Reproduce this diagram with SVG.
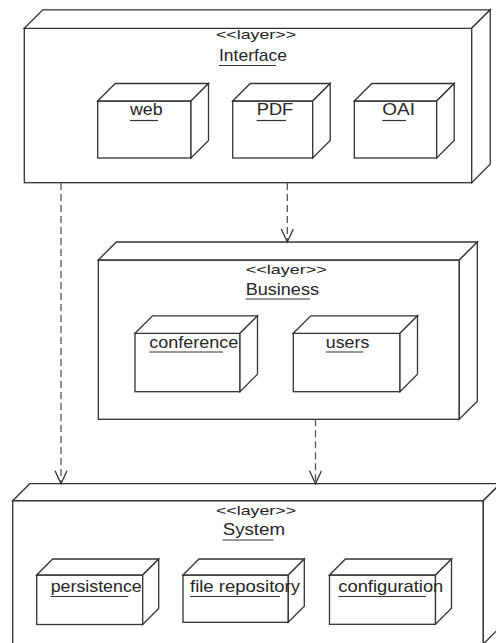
<svg xmlns="http://www.w3.org/2000/svg" width="496" height="643" viewBox="0 0 496 643">
  <defs>
    <style>
      .face { fill: #ffffff; stroke: #333333; stroke-width: 1.3; stroke-linejoin: miter; }
      .st { font-family: "Liberation Sans", Arial, sans-serif; font-size: 13.5px; fill: #262626; }
      .nm { font-family: "Liberation Sans", Arial, sans-serif; font-size: 17px; fill: #262626; }
      .ul { stroke: #333333; stroke-width: 1.2; }
      .dep { fill: none; stroke: #555555; stroke-width: 1.3; stroke-dasharray: 7 4; }
    </style>
    <marker id="open-arrow" markerUnits="userSpaceOnUse" markerWidth="16" markerHeight="16" viewBox="-14 -8 16 16" refX="0" refY="0" orient="auto">
      <path d="M-13,-6 L0,0 L-13,6" fill="none" stroke="#333333" stroke-width="1.3"/>
    </marker>
  </defs>

  <rect width="496" height="643" fill="#ffffff"/>

  <!-- Interface layer -->
  <g id="interface">
    <rect class="face" x="24.3" y="28.3" width="447.4" height="154.4"/>
    <polygon class="face" points="24.3,28.3 42.8,9.8 490.2,9.8 471.7,28.3"/>
    <polygon class="face" points="471.7,28.3 490.2,9.8 490.2,164.2 471.7,182.7"/>
    <text class="st" x="216" y="38.5" textLength="80" lengthAdjust="spacingAndGlyphs">&lt;&lt;layer&gt;&gt;</text>
    <text class="nm" x="219" y="60.5" textLength="68" lengthAdjust="spacingAndGlyphs">Interface</text>
    <line class="ul" x1="219" y1="65.5" x2="276" y2="65.5"/>
  </g>

  <g id="web">
    <rect class="face" x="97.7" y="101" width="93.3" height="57"/>
    <polygon class="face" points="97.7,101 115.2,83.5 208.5,83.5 191,101"/>
    <polygon class="face" points="191,101 208.5,83.5 208.5,140.5 191,158"/>
    <text class="nm" x="130" y="115" textLength="32.5" lengthAdjust="spacingAndGlyphs">web</text>
    <line class="ul" x1="130" y1="120.5" x2="158" y2="120.5"/>
  </g>

  <g id="pdf">
    <rect class="face" x="232.7" y="101" width="80" height="57"/>
    <polygon class="face" points="232.7,101 250.2,83.5 330.2,83.5 312.7,101"/>
    <polygon class="face" points="312.7,101 330.2,83.5 330.2,140.5 312.7,158"/>
    <text class="nm" x="256.7" y="115" textLength="36.6" lengthAdjust="spacingAndGlyphs">PDF</text>
    <line class="ul" x1="256.7" y1="120.5" x2="286" y2="120.5"/>
  </g>

  <g id="oai">
    <rect class="face" x="354.3" y="101" width="82.4" height="57"/>
    <polygon class="face" points="354.3,101 371.8,83.5 454.2,83.5 436.7,101"/>
    <polygon class="face" points="436.7,101 454.2,83.5 454.2,140.5 436.7,158"/>
    <text class="nm" x="382.3" y="115" textLength="32.7" lengthAdjust="spacingAndGlyphs">OAI</text>
    <line class="ul" x1="382.3" y1="120.5" x2="406" y2="120.5"/>
  </g>

  <!-- Business layer -->
  <g id="business">
    <rect class="face" x="98.3" y="260" width="361" height="159.3"/>
    <polygon class="face" points="98.3,260 116.3,242 477.3,242 459.3,260"/>
    <polygon class="face" points="459.3,260 477.3,242 477.3,401.3 459.3,419.3"/>
    <text class="st" x="245.7" y="274" textLength="81" lengthAdjust="spacingAndGlyphs">&lt;&lt;layer&gt;&gt;</text>
    <text class="nm" x="245.7" y="295" textLength="73.3" lengthAdjust="spacingAndGlyphs">Business</text>
    <line class="ul" x1="245.7" y1="299" x2="310" y2="299"/>
  </g>

  <g id="conference">
    <rect class="face" x="135" y="333.3" width="105" height="58.4"/>
    <polygon class="face" points="135,333.3 152.5,315.8 257.5,315.8 240,333.3"/>
    <polygon class="face" points="240,333.3 257.5,315.8 257.5,374.2 240,391.7"/>
    <text class="nm" x="149.3" y="348" textLength="89" lengthAdjust="spacingAndGlyphs">conference</text>
    <line class="ul" x1="149.3" y1="352" x2="223" y2="352"/>
  </g>

  <g id="users">
    <rect class="face" x="293.3" y="333.3" width="106.7" height="58.4"/>
    <polygon class="face" points="293.3,333.3 310.8,315.8 417.5,315.8 400,333.3"/>
    <polygon class="face" points="400,333.3 417.5,315.8 417.5,374.2 400,391.7"/>
    <text class="nm" x="325.8" y="348" textLength="43.5" lengthAdjust="spacingAndGlyphs">users</text>
    <line class="ul" x1="325.8" y1="352" x2="363.3" y2="352"/>
  </g>

  <!-- System layer -->
  <g id="system">
    <rect class="face" x="12.7" y="500.7" width="470.6" height="143.3"/>
    <polygon class="face" points="12.7,500.7 29.7,483.7 500.3,483.7 483.3,500.7"/>
    <polygon class="face" points="483.3,500.7 500.3,483.7 500.3,627 483.3,644"/>
    <text class="st" x="216" y="515" textLength="80" lengthAdjust="spacingAndGlyphs">&lt;&lt;layer&gt;&gt;</text>
    <text class="nm" x="222.7" y="535" textLength="62.3" lengthAdjust="spacingAndGlyphs">System</text>
    <line class="ul" x1="222.7" y1="540" x2="273.3" y2="540"/>
  </g>

  <g id="persistence">
    <rect class="face" x="36.7" y="575" width="106" height="49.5"/>
    <polygon class="face" points="36.7,575 52.7,559 158.7,559 142.7,575"/>
    <polygon class="face" points="142.7,575 158.7,559 158.7,608.5 142.7,624.5"/>
    <text class="nm" x="50.7" y="591.5" textLength="91" lengthAdjust="spacingAndGlyphs">persistence</text>
    <line class="ul" x1="50.7" y1="596.5" x2="128.3" y2="596.5"/>
  </g>

  <g id="file-repository">
    <rect class="face" x="183" y="575" width="105.3" height="47.3"/>
    <polygon class="face" points="183,575 199,559 304.3,559 288.3,575"/>
    <polygon class="face" points="288.3,575 304.3,559 304.3,606.3 288.3,622.3"/>
    <text class="nm" x="190" y="591.5" textLength="110" lengthAdjust="spacingAndGlyphs">file repository</text>
    <line class="ul" x1="190" y1="596.5" x2="280" y2="596.5"/>
  </g>

  <g id="configuration">
    <rect class="face" x="329.5" y="575" width="106" height="49.3"/>
    <polygon class="face" points="329.5,575 345.5,559 451.5,559 435.5,575"/>
    <polygon class="face" points="435.5,575 451.5,559 451.5,608.3 435.5,624.3"/>
    <text class="nm" x="338.3" y="591.5" textLength="105" lengthAdjust="spacingAndGlyphs">configuration</text>
    <line class="ul" x1="338.3" y1="596.5" x2="426" y2="596.5"/>
  </g>

  <!-- dependencies -->
  <g id="connectors">
    <line class="dep" x1="61" y1="183" x2="61" y2="483.7" marker-end="url(#open-arrow)"/>
    <line class="dep" x1="287.3" y1="183" x2="287.3" y2="242" marker-end="url(#open-arrow)"/>
    <line class="dep" x1="315.5" y1="419.3" x2="315.5" y2="483.7" marker-end="url(#open-arrow)"/>
  </g>
</svg>
